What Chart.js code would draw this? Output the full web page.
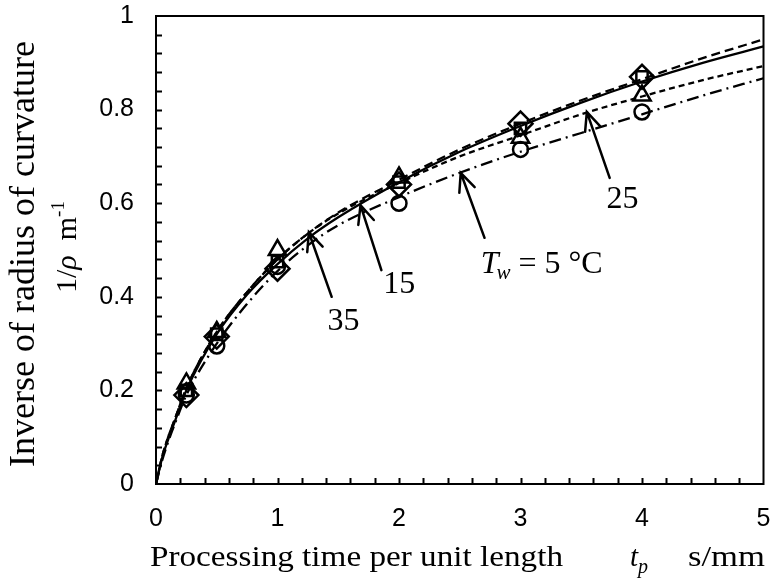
<!DOCTYPE html>
<html>
<head>
<meta charset="utf-8">
<script src="https://cdn.jsdelivr.net/npm/chart.js@4.4.1/dist/chart.umd.min.js"></script>
<style>
html,body{margin:0;padding:0;background:#fff;}
#wrap{width:778px;height:581px;}
</style>
</head>
<body>
<div id="wrap"><canvas id="c" width="778" height="581"></canvas></div>
<script>
// ---- data ----
const tCurve = [0, 0.05, 0.1, 0.15, 0.25, 0.5, 0.75, 1, 1.25, 1.5, 2, 2.5, 3, 3.5, 4, 4.5, 5];
const fit35 = [0, 0.055, 0.095, 0.13, 0.2, 0.32, 0.405, 0.47, 0.525, 0.57, 0.645, 0.71, 0.765, 0.815, 0.86, 0.9, 0.935];
const fit15 = [0, 0.058, 0.1, 0.135, 0.205, 0.325, 0.41, 0.48, 0.535, 0.58, 0.65, 0.715, 0.77, 0.82, 0.865, 0.91, 0.95];
const fit25 = [0, 0.058, 0.1, 0.135, 0.205, 0.325, 0.41, 0.48, 0.535, 0.578, 0.643, 0.70, 0.745, 0.79, 0.828, 0.863, 0.893];
const fit5  = [0, 0.05, 0.09, 0.125, 0.19, 0.3, 0.385, 0.455, 0.51, 0.553, 0.613, 0.665, 0.71, 0.75, 0.79, 0.83, 0.867];

const tMeas = [0.25, 0.5, 1, 2, 3, 4];
const meas5  = [0.19, 0.295, 0.465, 0.60, 0.715, 0.795];   // circles
const meas25 = [0.215, 0.325, 0.50, 0.655, 0.74, 0.83];    // triangles
const meas15 = [0.20, 0.32, 0.475, 0.645, 0.76, 0.87];     // squares
const meas35 = [0.19, 0.315, 0.46, 0.64, 0.77, 0.87];      // diamonds

const xTicks = [0, 1, 2, 3, 4, 5];
const yTicks = [0, 0.2, 0.4, 0.6, 0.8, 1];

// annotations: [label, tipX, tipY, tailX, tailY, textX, textY(baseline)]
const arrowNotes = [
  ['35', 1.258, 0.538, 1.446, 0.400, 1.544, 0.329],
  ['15', 1.683, 0.596, 1.855, 0.457, 2.002, 0.408],
  ['25', 3.546, 0.795, 3.734, 0.654, 3.840, 0.590],
  ['Tw', 2.508, 0.665, 2.704, 0.526, 2.672, 0.451]
];

const pts = (xs, ys) => xs.map((x, i) => ({x: x, y: ys[i]}));

function curve(label, ys, dash) {
  return {label, data: pts(tCurve, ys), showLine: true, borderColor: '#000', borderWidth: 2.3,
    borderDash: dash, pointRadius: 0, cubicInterpolationMode: 'monotone', fill: false, order: 2};
}
function marks(label, ys, style, r) {
  return {label, data: pts(tMeas, ys), showLine: false, pointStyle: style, pointRadius: r,
    pointBorderColor: '#000', pointBackgroundColor: 'rgba(0,0,0,0)', pointBorderWidth: 2.5, order: 1};
}

const SERIF = '"Liberation Serif", "Times New Roman", serif';
const SANS = '"Liberation Sans", Arial, sans-serif';

function fitText(ctx, str, x, y, font, target) {
  ctx.font = font;
  const w = ctx.measureText(str).width;
  const sx = target ? target / w : 1;
  ctx.save(); ctx.translate(x, y); ctx.scale(sx, 1);
  ctx.textAlign = 'left'; ctx.fillText(str, 0, 0); ctx.restore();
  return w * sx;
}

const decor = {
  id: 'decor',
  afterDatasetsDraw(chart) {
    const {ctx, chartArea: a, scales: {x, y}} = chart;
    ctx.save();
    ctx.strokeStyle = '#000'; ctx.fillStyle = '#000';
    // frame
    ctx.lineWidth = 2;
    ctx.strokeRect(a.left, a.top, a.right - a.left, a.bottom - a.top);
    // inward minor ticks
    ctx.beginPath();
    for (let i = 1; i < 25; i++) {
      const py = Math.round(y.getPixelForValue(i * 0.04)) + 0.5;
      ctx.moveTo(a.left, py); ctx.lineTo(a.left + 6, py);
    }
    for (let i = 1; i < 25; i++) {
      const px = Math.round(x.getPixelForValue(i * 0.2)) + 0.5;
      ctx.moveTo(px, a.bottom); ctx.lineTo(px, a.bottom - 6);
    }
    ctx.stroke();
    // arrows + labels
    ctx.lineWidth = 2.5; ctx.lineCap = 'round';
    arrowNotes.forEach(n => {
      const tx = x.getPixelForValue(n[1]), ty = y.getPixelForValue(n[2]);
      const sx = x.getPixelForValue(n[3]), sy = y.getPixelForValue(n[4]);
      const ang = Math.atan2(ty - sy, tx - sx);
      const L = 20, h = 0.42;
      ctx.beginPath();
      ctx.moveTo(sx, sy); ctx.lineTo(tx, ty);
      ctx.moveTo(tx - L * Math.cos(ang - h), ty - L * Math.sin(ang - h));
      ctx.lineTo(tx, ty);
      ctx.lineTo(tx - L * Math.cos(ang + h), ty - L * Math.sin(ang + h));
      ctx.stroke();
      const px = x.getPixelForValue(n[5]), py = y.getPixelForValue(n[6]);
      ctx.textBaseline = 'alphabetic';
      if (n[0] === 'Tw') {
        ctx.textAlign = 'left';
        ctx.font = 'italic 32px ' + SERIF;
        ctx.fillText('T', px, py);
        let cx = px + ctx.measureText('T').width - 2;
        ctx.font = 'italic 21px ' + SERIF;
        ctx.fillText('w', cx, py + 6);
        cx += ctx.measureText('w').width;
        ctx.font = '32px ' + SERIF;
        ctx.fillText(' = 5 °C', cx, py);
      } else {
        ctx.textAlign = 'center';
        ctx.font = '32px ' + SERIF;
        ctx.fillText(n[0], px, py);
      }
    });
    // x-axis title
    ctx.textBaseline = 'alphabetic';
    const by = 566;
    fitText(ctx, 'Processing time per unit length', 150, by, '29px ' + SERIF, 413);
    ctx.textAlign = 'left';
    ctx.font = 'italic 29px ' + SERIF;
    ctx.fillText('t', 630, by);
    const w = ctx.measureText('t').width;
    ctx.font = 'italic 20px ' + SERIF;
    ctx.fillText('p', 630 + w, by + 7);
    fitText(ctx, 's/mm', 688, by, '29px ' + SERIF, 77);
    // y-axis title line 1 (rotated)
    ctx.save();
    ctx.translate(34, 254); ctx.rotate(-Math.PI / 2);
    ctx.textAlign = 'center';
    ctx.font = '36px ' + SERIF;
    ctx.fillText('Inverse of radius of curvature', 0, 0);
    ctx.restore();
    // y-axis title line 2
    ctx.save();
    ctx.translate(76, 293); ctx.rotate(-Math.PI / 2);
    ctx.textAlign = 'left';
    ctx.font = '30px ' + SERIF;
    ctx.fillText('1/', 0, 0);
    let cx = ctx.measureText('1/').width;
    ctx.font = 'italic 30px ' + SERIF;
    ctx.fillText('ρ', cx, 0);
    cx += ctx.measureText('ρ').width;
    ctx.font = '30px ' + SERIF;
    ctx.fillText('  m', cx, 0);
    cx += ctx.measureText('  m').width;
    ctx.font = '19px ' + SERIF;
    ctx.fillText('-1', cx, -12);
    ctx.restore();
    ctx.restore();
  }
};

new Chart(document.getElementById('c'), {
  type: 'scatter',
  data: {
    datasets: [
      curve('35 °C fit', fit35, []),
      curve('15 °C fit', fit15, [9, 5]),
      curve('25 °C fit', fit25, [6, 4]),
      curve('5 °C fit', fit5, [12, 5, 2, 5]),
      marks('5 °C', meas5, 'circle', 7.5),
      marks('25 °C', meas25, 'triangle', 10),
      marks('15 °C', meas15, 'rect', 8),
      marks('35 °C', meas35, 'rectRot', 12)
    ]
  },
  options: {
    responsive: false,
    animation: false,
    layout: {padding: {top: 16, right: 10, left: 0, bottom: 0}},
    plugins: {legend: {display: false}, tooltip: {enabled: false}},
    scales: {
      x: {
        type: 'linear', min: 0, max: 5,
        afterBuildTicks: s => { s.ticks = xTicks.map(v => ({value: v})); },
        afterFit: s => { s.height = 97; s.paddingLeft = 0; s.paddingRight = 0; },
        grid: {display: false, drawTicks: false},
        border: {display: false},
        ticks: {color: '#000', padding: 20, font: {family: SANS, size: 25}, maxRotation: 0,
          callback: v => String(+v.toFixed(1))}
      },
      y: {
        type: 'linear', min: 0, max: 1,
        afterBuildTicks: s => { s.ticks = yTicks.map(v => ({value: v})); },
        afterFit: s => { s.width = 156; s.paddingTop = 0; s.paddingBottom = 0; },
        grid: {display: false, drawTicks: false},
        border: {display: false},
        ticks: {color: '#000', padding: 22, font: {family: SANS, size: 25},
          callback: v => String(+v.toFixed(1))}
      }
    }
  },
  plugins: [decor]
});
</script>
</body>
</html>
